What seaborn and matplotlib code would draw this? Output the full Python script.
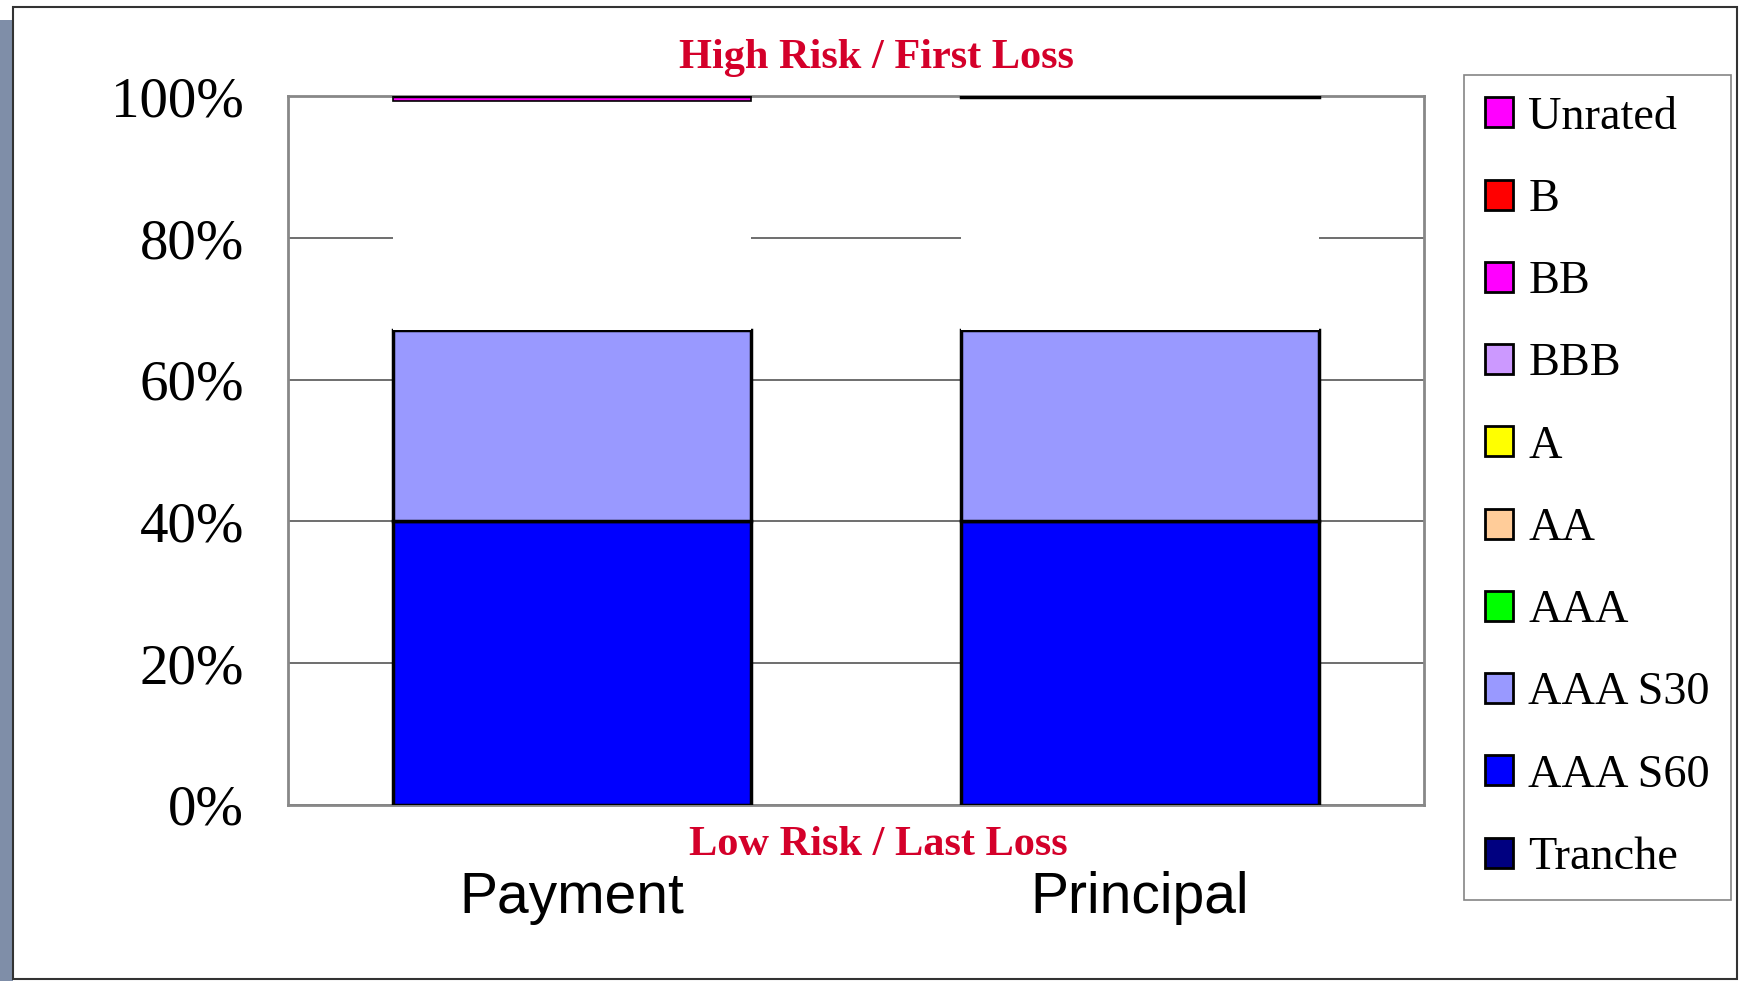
import matplotlib
matplotlib.use("Agg")
import matplotlib.pyplot as plt
import seaborn as sns
import numpy as np
from matplotlib.patches import Patch, Rectangle

sns.set_style("white")
plt.rcParams["text.color"] = "black"
plt.rcParams["ytick.color"] = "black"

categories = ["Payment", "Principal"]
aaa_s60 = [40, 40]
aaa_s30 = [27, 27]
blank = [32.4, 32.9]
unrated = [0.6, 0.0]
tranche = [0.0, 0.1]

legend_labels = ["Unrated", "B", "BB", "BBB", "A", "AA", "AAA", "AAA S30", "AAA S60", "Tranche"]
legend_colors = ["#ff00ff", "#ff0000", "#ff00ff", "#cc99ff", "#ffff00", "#ffcc99",
                 "#00ff00", "#9999ff", "#0000ff", "#000080"]

fig = plt.figure(figsize=(17.39, 9.81), dpi=100)
W, H = 1568, 885
k = 1739 / 1568
ax = fig.add_axes([260/W, 1-726/H, 1024/W, 639/H])

x = np.arange(len(categories))
bw = 0.63
bottom = np.zeros(2)
segs = [(aaa_s60, "#0000ff", "black"), (aaa_s30, "#9999ff", "black"),
        (blank, "white", "none"), (unrated, "#ff00ff", "black"), (tranche, "#000080", "black")]
for vals, col, ec in segs:
    lw = 1.2 if col == "#ff00ff" else 2.5
    ax.bar(x, vals, bw, bottom=bottom, color=col, edgecolor=ec, linewidth=lw, zorder=3)
    bottom += np.array(vals)

ax.set_xlim(-0.5, 1.5)
ax.set_ylim(0, 100)
ax.set_yticks([0, 20, 40, 60, 80, 100])
ax.set_yticklabels([f"{v}%" for v in [0, 20, 40, 60, 80, 100]],
                   family="Liberation Serif", fontsize=37*k, color="black")
ax.yaxis.grid(True, color="#555555", linewidth=1.2, zorder=0)
ax.set_xticks([0.5, 1.5])
ax.set_xticklabels(["", ""])
ax.tick_params(axis="x", length=18, width=1.2, color="#777777", direction="out")
ax.tick_params(axis="y", length=10, width=1.2, color="#777777", pad=22)
for s in ax.spines.values():
    s.set_color("#888888")
    s.set_linewidth(2)
for i, c in enumerate(categories):
    ax.text(x[i], -9.3, c, ha="center", va="top", fontsize=37*k,
            family="Liberation Sans", color="black")

fig.text(790/W, 1-52/H, "High Risk / First Loss", ha="center", va="center",
         color="#d4002a", fontsize=27.5*k, weight="bold", family="Liberation Serif")
fig.text(792/W, 1-762/H, "Low Risk / Last Loss", ha="center", va="center",
         color="#d4002a", fontsize=27.5*k, weight="bold", family="Liberation Serif")

handles = [Patch(facecolor=c, edgecolor="black", linewidth=2) for c in legend_colors]
leg = fig.legend(handles, legend_labels, loc="upper left",
                 bbox_to_anchor=(1320/W, 1-68/H), frameon=True, fancybox=False,
                 prop={"family": "Liberation Serif", "size": 30*k},
                 labelspacing=0.86, handlelength=0.62, handleheight=0.62,
                 handletextpad=0.32, borderpad=0.45, borderaxespad=0)
leg.get_frame().set_edgecolor("#666666")
leg.get_frame().set_linewidth(1.2)

fig.patches.append(Rectangle((0, 0), 12/W, 1-18/H, transform=fig.transFigure,
                             facecolor="#7f8ea8", edgecolor="none"))
fig.patches.append(Rectangle((12/W, 2/H), 1-14/W, 1-8/H, transform=fig.transFigure,
                             facecolor="none", edgecolor="#333333", linewidth=1.5))

fig.savefig("out.png", dpi=100)
